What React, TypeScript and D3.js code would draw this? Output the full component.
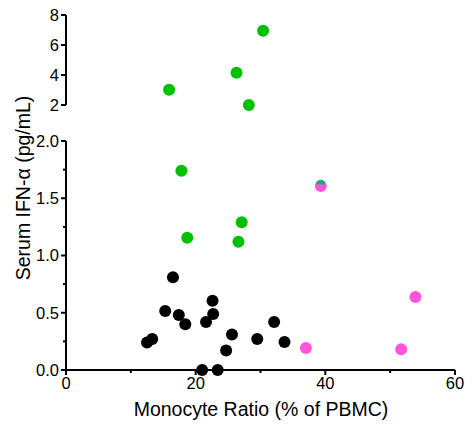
import React from "react";
import * as d3 from "d3";

const blackX = [12.5, 13.3, 16.5, 15.3, 17.4, 18.4, 22.6, 22.7, 21.6, 25.6, 24.7, 29.5, 32.1, 33.7, 21.0, 23.4];
const blackY = [0.24, 0.27, 0.81, 0.515, 0.48, 0.40, 0.605, 0.49, 0.42, 0.31, 0.17, 0.27, 0.42, 0.245, 0.0, 0.0];

const greenX = [30.4, 26.3, 15.9, 28.2, 17.8, 27.1, 18.7, 26.6];
const greenY = [6.95, 4.15, 3.02, 2.0, 1.74, 1.29, 1.155, 1.12];

const hiddenX = [39.3];
const hiddenY = [1.625];

const pinkX = [39.3, 53.9, 37.0, 51.7];
const pinkY = [1.607, 0.638, 0.192, 0.181];

const xTicks = [0, 20, 40, 60];
const xMinor = [10, 30, 50];
const yLowTicks = [0, 0.5, 1.0, 1.5, 2.0];
const yLowMinor = [0.25, 0.75, 1.25, 1.75];
const yHighTicks = [2, 4, 6, 8];

const BREAK = 2;

export default function App() {
  const x = d3.scaleLinear().domain([0, 60]).range([66, 455]);
  const yLow = d3.scaleLinear().domain([0, 2]).range([370, 141]);
  const yHigh = d3.scaleLinear().domain([2, 8]).range([105, 15]);
  const y = (v: number) => (v > BREAK ? yHigh(v) : yLow(v));
  const yG = (v: number) => (v >= BREAK ? yHigh(v) : yLow(v));

  const font = "Liberation Sans, Arial, sans-serif";
  const r = 6;
  const halfArc = d3.arc<any>()({
    innerRadius: 0,
    outerRadius: 4.6,
    startAngle: -Math.PI / 2,
    endAngle: Math.PI / 2,
  } as any) as string;

  return (
    <svg width={476} height={438} style={{ position: "absolute", left: 0, top: 0 }}>
      <rect width={476} height={438} fill="#fff" />
      {/* axes */}
      <g stroke="#000" strokeWidth={2} fill="none">
        <line x1={x(0)} x2={x(60)} y1={370} y2={370} />
        <line x1={66} x2={66} y1={371} y2={yLow(2)} />
        <line x1={66} x2={66} y1={yHigh(2)} y2={yHigh(8)} />
        {xTicks.map((t) => (
          <line key={"xt" + t} x1={x(t)} x2={x(t)} y1={370} y2={375} />
        ))}
        {xMinor.map((t) => (
          <line key={"xm" + t} x1={x(t)} x2={x(t)} y1={370} y2={373} />
        ))}
        {yLowTicks.map((t) => (
          <line key={"yl" + t} x1={61} x2={66} y1={yLow(t)} y2={yLow(t)} />
        ))}
        {yLowMinor.map((t) => (
          <line key={"ylm" + t} x1={63} x2={66} y1={yLow(t)} y2={yLow(t)} />
        ))}
        {yHighTicks.map((t) => (
          <line key={"yh" + t} x1={61} x2={66} y1={yHigh(t)} y2={yHigh(t)} />
        ))}
      </g>
      <g fontFamily={font} fontSize={16.5} fill="#000">
        {xTicks.map((t) => (
          <text key={"xl" + t} x={x(t)} y={389} textAnchor="middle">
            {t}
          </text>
        ))}
        {yLowTicks.map((t) => (
          <text key={"yll" + t} x={59} y={yLow(t)} dy="0.36em" textAnchor="end">
            {t.toFixed(1)}
          </text>
        ))}
        {yHighTicks.map((t) => (
          <text key={"yhl" + t} x={59} y={yHigh(t)} dy="0.36em" textAnchor="end">
            {t}
          </text>
        ))}
      </g>
      <text x={261} y={416} fontFamily={font} fontSize={19.5} textAnchor="middle">
        Monocyte Ratio (% of PBMC)
      </text>
      <text
        transform={`translate(30,188) rotate(-90)`}
        fontFamily={font}
        fontSize={19.5}
        textAnchor="middle"
      >
        Serum IFN-α (pg/mL)
      </text>
      {/* points */}
      {blackX.map((v, i) => (
        <circle key={"b" + i} cx={x(v)} cy={y(blackY[i])} r={r} fill="#000" />
      ))}
      {greenX.map((v, i) => (
        <circle key={"g" + i} cx={x(v)} cy={yG(greenY[i])} r={r} fill="#00C000" />
      ))}
      {pinkX.map((v, i) => (
        <circle key={"p" + i} cx={x(v)} cy={y(pinkY[i])} r={r} fill="#FF55DD" />
      ))}
      {hiddenX.map((v, i) => (
        <path
          key={"h" + i}
          d={halfArc}
          transform={`translate(${x(v)},${y(hiddenY[i]) + 0.5})`}
          fill="#10B078"
        />
      ))}
    </svg>
  );
}
